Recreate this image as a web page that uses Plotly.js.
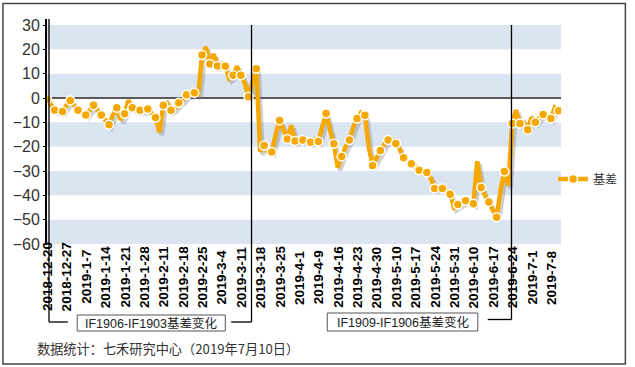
<!DOCTYPE html>
<html><head><meta charset="utf-8">
<script src="https://cdn.plot.ly/plotly-3.0.1.min.js"></script>
<style>html,body{margin:0;padding:0;background:#fff}#chart{width:635px;height:367px}</style>
</head><body><div id="chart"></div>
<script>
// ---------- DATA ----------
const dates = [
"2018-12-20","2018-12-21","2018-12-24","2018-12-25","2018-12-26","2018-12-27","2018-12-28",
"2019-1-2","2019-1-3","2019-1-4",
"2019-1-7","2019-1-8","2019-1-9","2019-1-10","2019-1-11",
"2019-1-14","2019-1-15","2019-1-16","2019-1-17","2019-1-18",
"2019-1-21","2019-1-22","2019-1-23","2019-1-24","2019-1-25",
"2019-1-28","2019-1-29","2019-1-30","2019-1-31","2019-2-1",
"2019-2-11","2019-2-12","2019-2-13","2019-2-14","2019-2-15",
"2019-2-18","2019-2-19","2019-2-20","2019-2-21","2019-2-22",
"2019-2-25","2019-2-26","2019-2-27","2019-2-28","2019-3-1",
"2019-3-4","2019-3-5","2019-3-6","2019-3-7","2019-3-8",
"2019-3-11","2019-3-12","2019-3-13","2019-3-14","2019-3-15",
"2019-3-18","2019-3-19","2019-3-20","2019-3-21","2019-3-22",
"2019-3-25","2019-3-26","2019-3-27","2019-3-28","2019-3-29",
"2019-4-1","2019-4-2","2019-4-3","2019-4-4",
"2019-4-8","2019-4-9","2019-4-10","2019-4-11","2019-4-12",
"2019-4-15","2019-4-16","2019-4-17","2019-4-18","2019-4-19",
"2019-4-22","2019-4-23","2019-4-24","2019-4-25","2019-4-26",
"2019-4-29","2019-4-30",
"2019-5-6","2019-5-7","2019-5-8","2019-5-9","2019-5-10",
"2019-5-13","2019-5-14","2019-5-15","2019-5-16","2019-5-17",
"2019-5-20","2019-5-21","2019-5-22","2019-5-23","2019-5-24",
"2019-5-27","2019-5-28","2019-5-29","2019-5-30","2019-5-31",
"2019-6-3","2019-6-4","2019-6-5","2019-6-6",
"2019-6-10","2019-6-11","2019-6-12","2019-6-13","2019-6-14",
"2019-6-17","2019-6-18","2019-6-19","2019-6-20","2019-6-21",
"2019-6-24","2019-6-25","2019-6-26","2019-6-27","2019-6-28",
"2019-7-1","2019-7-2","2019-7-3","2019-7-4","2019-7-5",
"2019-7-8","2019-7-9","2019-7-10"
];
const basis = [
-0.5,-3,-5,-5.5,-5.5,-3,-1,-3,-5,-6,
-7,-5,-3,-5,-7,-9,-11,-7,-4,-9,
-6.5,-1,-4,-5,-5,-5,-4.5,-6,-8,-14,
-3,-2,-5,-4,-2,-1,1.3,1.5,2.2,1,
17.7,21,14,18,13.2,14,13,8,9.3,13,
9.3,6,0.5,7,12,-22,-19.5,-22,-22.2,-15,
-9.2,-13,-16.8,-11.3,-17.7,-17,-17.3,-18,-18.2,-17,
-17.9,-12,-6.4,-13,-18.8,-28.5,-24,-20,-17.3,-12,
-8.4,-6,-7.1,-20,-27.7,-25,-21.6,-19,-17.3,-17,
-18.7,-21,-24.6,-26,-27,-28,-29.7,-30,-30.6,-33,
-37.2,-37,-37.2,-38,-39.6,-45,-43.8,-43,-42.2,-43,
-43.5,-26,-36.8,-40,-42.7,-46,-49,-38,-30.2,-36,
-10.5,-5,-10.5,-10,-13,-8,-10,-8,-6.8,-7,
-8.4,-4,-5.2
];
const tickLabels = ["2018-12-20","2018-12-27","2019-1-7","2019-1-14","2019-1-21","2019-1-28",
"2019-2-11","2019-2-18","2019-2-25","2019-3-4","2019-3-11","2019-3-18","2019-3-25","2019-4-1",
"2019-4-9","2019-4-16","2019-4-23","2019-4-30","2019-5-10","2019-5-17","2019-5-24","2019-5-31",
"2019-6-10","2019-6-17","2019-6-24","2019-7-1","2019-7-8"];
const seriesName = "基差";
const bracketLabels = ["IF1906-IF1903基差变化", "IF1909-IF1906基差变化"];
const footnote = "数据统计：七禾研究中心（2019年7月10日）";

// ---------- LAYOUT GEOMETRY ----------
const W = 635, H = 367, L = 47, R = 566, T = 25, B = 244;
const px = x => (x - L) / (R - L);
const py = y => (B - y) / (B - T);
const ORANGE = '#F5A800';
const xMax = 132.6;
const yMin = -60, yMax = 30;
const pxPerIdx = (R - L) / xMax;
const pxPerUnit = (B - T) / (yMax - yMin);
const shadowDx = 2.5, shadowDy = 3;
const latin = 'Liberation Sans, Arial, sans-serif';
const mixed = 'Liberation Sans, Arial, Noto Sans CJK SC, sans-serif';
const cjk = 'Noto Sans CJK SC, sans-serif';

const markerIdx = dates.map((d, i) => i).filter(i => i % 2 === 0);
const markerStyle = {size: 9, color: ORANGE, line: {color: '#ffffff', width: 1.5}};

const traces = [
  {type: 'scatter', mode: 'lines', x: dates, y: basis, xaxis: 'x2', yaxis: 'y2',
   line: {color: 'rgba(120,120,120,0.35)', width: 4.5}, showlegend: false, hoverinfo: 'skip'},
  {type: 'scatter', mode: 'lines', x: dates, y: basis, xaxis: 'x3', yaxis: 'y3',
   line: {color: ORANGE, width: 4.5}, showlegend: false},
  {type: 'scatter', mode: 'markers', x: markerIdx.map(i => dates[i]), y: markerIdx.map(i => basis[i]),
   xaxis: 'x3', yaxis: 'y3', marker: markerStyle, showlegend: false},
  {type: 'scatter', mode: 'lines+markers', name: seriesName, x: [null], y: [null], xaxis: 'x3', yaxis: 'y3',
   line: {color: ORANGE, width: 4.5}, marker: markerStyle, showlegend: true}
];

const shapes = [];
// horizontal bands
for (let v = yMax; v > yMin; v -= 20) {
  shapes.push({type: 'rect', xref: 'paper', yref: 'y', x0: 0, x1: 1, y0: v - 10, y1: v,
    fillcolor: '#dbe5f1', line: {width: 0}, layer: 'below'});
}
// y axis line
shapes.push({type: 'line', xref: 'paper', yref: 'paper', x0: px(46), x1: px(46), y0: py(19), y1: py(245),
  line: {color: '#000', width: 2}, layer: 'above'});
const br = {color: '#000', width: 1.3};
// bracket 1
shapes.push({type: 'line', xref: 'paper', yref: 'paper', x0: px(49), x1: px(49), y0: py(19), y1: py(322), line: br, layer: 'above'});
shapes.push({type: 'line', xref: 'paper', yref: 'paper', x0: px(49), x1: px(68), y0: py(322), y1: py(322), line: br, layer: 'above'});
shapes.push({type: 'rect', xref: 'paper', yref: 'paper', x0: px(77.5), x1: px(227), y0: py(331), y1: py(315),
  line: {color: '#555', width: 1}, fillcolor: '#fff', layer: 'above'});
shapes.push({type: 'line', xref: 'paper', yref: 'paper', x0: px(233), x1: px(253.5), y0: py(322), y1: py(322), line: br, layer: 'above'});
shapes.push({type: 'line', xref: 'paper', yref: 'paper', x0: px(253.5), x1: px(253.5), y0: py(25), y1: py(322), line: br, layer: 'above'});
// bracket 2
shapes.push({type: 'rect', xref: 'paper', yref: 'paper', x0: px(330), x1: px(482), y0: py(331), y1: py(313),
  line: {color: '#555', width: 1}, fillcolor: '#fff', layer: 'above'});
shapes.push({type: 'line', xref: 'paper', yref: 'paper', x0: px(492), x1: px(516), y0: py(319.5), y1: py(319.5), line: br, layer: 'above'});
shapes.push({type: 'line', xref: 'paper', yref: 'paper', x0: px(516), x1: px(516), y0: py(25), y1: py(319.5), line: br, layer: 'above'});
// outer frame
shapes.push({type: 'rect', xref: 'paper', yref: 'paper', x0: px(2.5), x1: px(631), y0: py(364), y1: py(3.5),
  line: {color: '#444', width: 1.5}, fillcolor: 'rgba(0,0,0,0)', layer: 'above'});

const annotations = tickLabels.map(lbl => ({
  xref: 'x', yref: 'paper', x: dates.indexOf(lbl), y: py(277), text: lbl, textangle: -90,
  showarrow: false, xanchor: 'center', yanchor: 'middle',
  font: {family: latin, size: 13.5, color: '#000', weight: 700}
}));
annotations.push({xref: 'paper', yref: 'paper', x: px(152.5), y: py(323), text: bracketLabels[0], showarrow: false,
  xanchor: 'center', yanchor: 'middle', font: {family: mixed, size: 12.5, color: '#222'}});
annotations.push({xref: 'paper', yref: 'paper', x: px(406), y: py(322), text: bracketLabels[1], showarrow: false,
  xanchor: 'center', yanchor: 'middle', font: {family: mixed, size: 12.5, color: '#222'}});
annotations.push({xref: 'paper', yref: 'paper', x: px(35), y: py(348.5), text: footnote, showarrow: false,
  xanchor: 'left', yanchor: 'middle', font: {family: cjk, size: 13.2, color: '#333'}});

const layout = {
  width: W, height: H, margin: {l: L, r: W - R, t: T, b: H - B, pad: 0},
  paper_bgcolor: '#fff', plot_bgcolor: '#fff',
  xaxis: {type: 'linear', range: [0, xMax], showticklabels: false, ticks: '', showgrid: false,
    zeroline: false, showline: false, fixedrange: true},
  yaxis: {type: 'linear', range: [yMin, yMax], tick0: 0, dtick: 10, ticks: 'outside', ticklen: 3,
    tickwidth: 1, tickcolor: '#000', showline: false, showgrid: false, zeroline: true,
    zerolinecolor: '#5a5a5a', zerolinewidth: 2, fixedrange: true,
    tickfont: {family: latin, size: 16, color: '#333'}},
  xaxis2: {type: 'category', overlaying: 'x', anchor: 'y2', categoryorder: 'array', categoryarray: dates,
    range: [-shadowDx / pxPerIdx, xMax - shadowDx / pxPerIdx], visible: false},
  yaxis2: {type: 'linear', overlaying: 'y', anchor: 'x2',
    range: [yMin + shadowDy / pxPerUnit, yMax + shadowDy / pxPerUnit], visible: false},
  xaxis3: {type: 'category', overlaying: 'x', anchor: 'y3', categoryorder: 'array', categoryarray: dates,
    range: [0, xMax], visible: false},
  yaxis3: {type: 'linear', overlaying: 'y', anchor: 'x3', range: [yMin, yMax], visible: false},
  showlegend: true,
  legend: {x: px(558), y: py(179), xanchor: 'left', yanchor: 'middle', bgcolor: 'rgba(0,0,0,0)',
    borderwidth: 0, font: {family: cjk, size: 12, color: '#333'}},
  shapes: shapes,
  annotations: annotations
};

Plotly.newPlot('chart', traces, layout, {displayModeBar: false, staticPlot: true});
</script>
</body></html>
